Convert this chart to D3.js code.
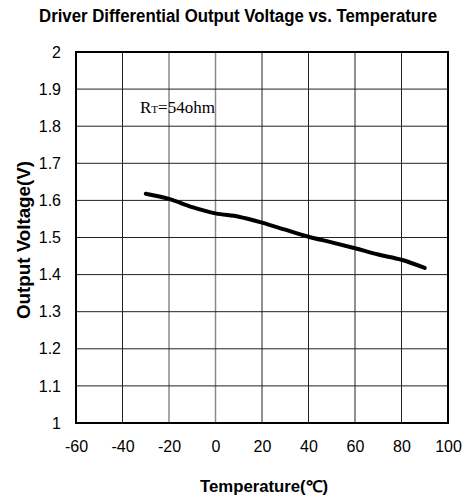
<!DOCTYPE html>
<html>
<head>
<meta charset="utf-8">
<script src="https://cdn.jsdelivr.net/npm/d3@7"></script>
<style>
  body { margin: 0; background: #fff; }
  svg { display: block; }
</style>
</head>
<body>
<svg id="chart" width="466" height="502"></svg>
<script>
// values
const temps = [-30, -20, -10, 0, 10, 20, 30, 40, 50, 60, 70, 80, 90];
const volts = [1.618, 1.604, 1.582, 1.565, 1.556, 1.540, 1.521, 1.502, 1.487, 1.471, 1.454, 1.440, 1.418];
const xTicks = [-60, -40, -20, 0, 20, 40, 60, 80, 100];
const yTicks = [1, 1.1, 1.2, 1.3, 1.4, 1.5, 1.6, 1.7, 1.8, 1.9, 2];

const svg = d3.select("#chart");
const plotL = 76, plotR = 448, plotT = 52, plotB = 423;

const x = d3.scaleLinear().domain([-60, 100]).range([plotL, plotR]);
const y = d3.scaleLinear().domain([1, 2]).range([plotB, plotT]);

// title
svg.append("text")
    .attr("x", 238).attr("y", 22)
    .attr("text-anchor", "middle")
    .attr("font-family", "Liberation Sans, Arial, sans-serif")
    .attr("font-weight", "bold")
    .attr("font-size", "17.5px")
    .attr("textLength", 398)
    .attr("lengthAdjust", "spacingAndGlyphs")
    .text("Driver Differential Output Voltage vs. Temperature");

// grid
const grid = svg.append("g");
grid.selectAll(".vg")
    .data(xTicks.slice(1, -1))
    .enter().append("line")
    .attr("x1", d => x(d)).attr("x2", d => x(d))
    .attr("y1", plotT).attr("y2", plotB)
    .attr("stroke", d => (d === -20 || d === 0) ? "#8a8a8a" : "#222")
    .attr("stroke-width", d => (d === -20 || d === 0) ? 1.5 : 1);
grid.selectAll(".hg")
    .data(yTicks.slice(1, -1))
    .enter().append("line")
    .attr("x1", plotL).attr("x2", plotR)
    .attr("y1", d => y(d)).attr("y2", d => y(d))
    .attr("stroke", "#222")
    .attr("stroke-width", 1);

// frame
svg.append("rect")
    .attr("x", plotL).attr("y", plotT)
    .attr("width", plotR - plotL).attr("height", plotB - plotT)
    .attr("fill", "none")
    .attr("stroke", "#000")
    .attr("stroke-width", 2);

// axes (labels only, lines drawn by frame)
const xAxis = svg.append("g")
    .attr("transform", `translate(0,${plotB})`)
    .call(d3.axisBottom(x).tickValues(xTicks).tickSize(0).tickPadding(18).tickFormat(d => String(d)));
const yAxis = svg.append("g")
    .attr("transform", `translate(${plotL},0)`)
    .call(d3.axisLeft(y).tickValues(yTicks).tickSize(0).tickPadding(15).tickFormat(d => String(d)));
[xAxis, yAxis].forEach(a => {
    a.select(".domain").remove();
    a.selectAll("text")
        .attr("font-family", "Liberation Sans, Arial, sans-serif")
        .attr("font-size", "16px")
        .attr("fill", "#000");
});

// axis titles
svg.append("text")
    .attr("x", 264).attr("y", 492)
    .attr("text-anchor", "middle")
    .attr("font-family", "Liberation Sans, Arial, sans-serif")
    .attr("font-weight", "bold")
    .attr("font-size", "16px")
    .attr("textLength", 128)
    .attr("lengthAdjust", "spacingAndGlyphs")
    .text("Temperature(℃)");

svg.append("text")
    .attr("transform", "translate(30,240) rotate(-90)")
    .attr("text-anchor", "middle")
    .attr("font-family", "Liberation Sans, Arial, sans-serif")
    .attr("font-weight", "bold")
    .attr("font-size", "18px")
    .attr("textLength", 158)
    .attr("lengthAdjust", "spacingAndGlyphs")
    .text("Output Voltage(V)");

// annotation
const note = svg.append("text")
    .attr("x", 140).attr("y", 113)
    .attr("font-family", "Liberation Serif, Times New Roman, serif")
    .attr("font-size", "17px")
    .attr("fill", "#000");
note.append("tspan").text("R");
note.append("tspan").attr("font-size", "11px").text("T");
note.append("tspan").text("=54ohm");

// curve
const line = d3.line()
    .x((d, i) => x(temps[i]))
    .y(d => y(d))
    .curve(d3.curveMonotoneX);

svg.append("path")
    .datum(volts)
    .attr("d", line)
    .attr("fill", "none")
    .attr("stroke", "#000")
    .attr("stroke-width", 4)
    .attr("stroke-linecap", "round");
</script>
</body>
</html>
